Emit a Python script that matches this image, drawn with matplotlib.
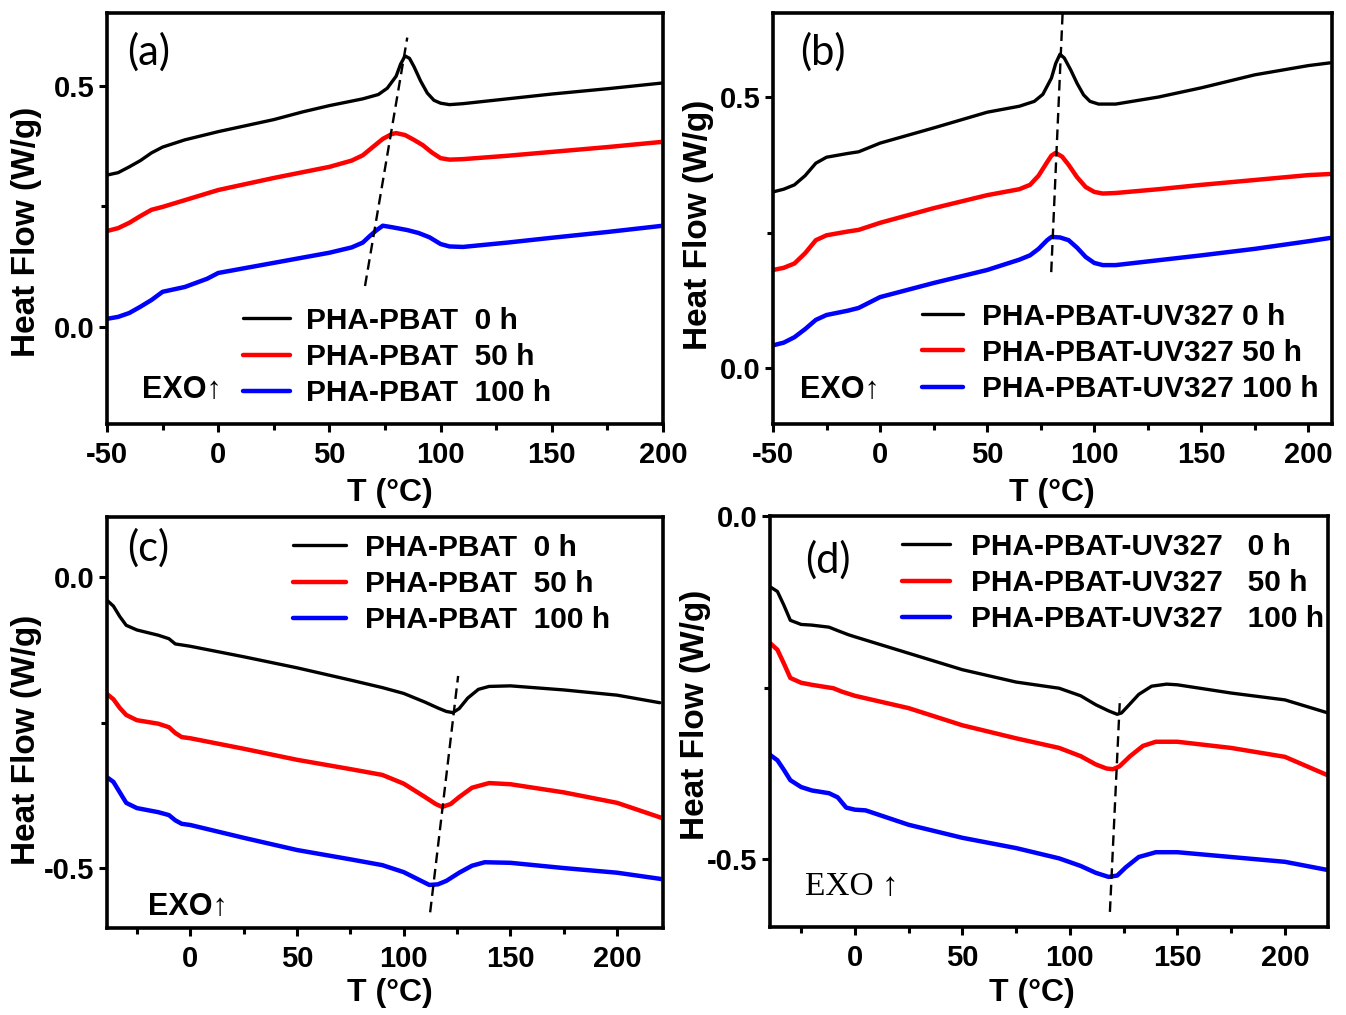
import matplotlib
matplotlib.use('Agg')
import matplotlib.pyplot as plt
from matplotlib.ticker import MultipleLocator

plt.rcParams['font.family'] = ['Liberation Sans', 'DejaVu Sans']
plt.rcParams['axes.unicode_minus'] = False

# ---- panel (a): PHA-PBAT heating
a_T_0 = [-50, -45, -40, -35, -30, -25, -15, 0, 12, 25, 38, 50, 65, 72, 76, 80, 82, 84, 86, 88, 91, 94, 97, 100, 104, 110, 130, 150, 175, 200]
a_HF_0 = [0.315, 0.32, 0.332, 0.345, 0.361, 0.373, 0.388, 0.405, 0.417, 0.43, 0.446, 0.459, 0.473, 0.482, 0.495, 0.52, 0.545, 0.562, 0.557, 0.54, 0.51, 0.485, 0.47, 0.464, 0.461, 0.463, 0.473, 0.483, 0.494, 0.506]
a_T_50 = [-50, -45, -40, -35, -30, -25, -15, 0, 25, 50, 60, 65, 70, 74, 78, 80, 84, 88, 92, 96, 100, 104, 110, 130, 150, 175, 200]
a_HF_50 = [0.199, 0.205, 0.216, 0.23, 0.243, 0.249, 0.263, 0.284, 0.309, 0.332, 0.345, 0.356, 0.375, 0.39, 0.4, 0.402, 0.398, 0.388, 0.377, 0.362, 0.35, 0.347, 0.348, 0.355, 0.363, 0.373, 0.384]
a_T_100 = [-50, -45, -40, -35, -30, -25, -15, -5, 0, 25, 50, 60, 65, 68, 71, 74, 78, 85, 90, 95, 100, 104, 110, 130, 150, 175, 200]
a_HF_100 = [0.017, 0.021, 0.029, 0.042, 0.056, 0.073, 0.083, 0.1, 0.112, 0.133, 0.154, 0.165, 0.175, 0.188, 0.2, 0.21, 0.207, 0.201, 0.195, 0.186, 0.172, 0.167, 0.166, 0.175, 0.185, 0.197, 0.21]
a_guide_T = [66, 85]
a_guide_HF = [0.085, 0.6]

# ---- panel (b): PHA-PBAT-UV327 heating
b_T_0 = [-50, -45, -40, -35, -30, -25, -15, -10, 0, 25, 50, 65, 72, 76, 80, 82, 84, 86, 89, 92, 95, 98, 102, 110, 130, 150, 175, 200, 210]
b_HF_0 = [0.325, 0.33, 0.338, 0.355, 0.378, 0.389, 0.396, 0.399, 0.415, 0.443, 0.472, 0.483, 0.492, 0.505, 0.535, 0.562, 0.579, 0.572, 0.55, 0.525, 0.504, 0.492, 0.487, 0.487, 0.5, 0.517, 0.541, 0.558, 0.563]
b_T_50 = [-50, -45, -40, -35, -30, -25, -15, -10, 0, 25, 50, 65, 70, 74, 78, 80, 82, 85, 88, 92, 96, 100, 104, 110, 130, 150, 175, 200, 210]
b_HF_50 = [0.181, 0.185, 0.193, 0.212, 0.236, 0.245, 0.252, 0.255, 0.268, 0.295, 0.319, 0.33, 0.338, 0.355, 0.38, 0.392, 0.397, 0.39, 0.375, 0.352, 0.334, 0.325, 0.322, 0.323, 0.33, 0.338, 0.347, 0.356, 0.358]
b_T_100 = [-50, -45, -40, -35, -30, -25, -15, -10, 0, 25, 50, 65, 70, 74, 78, 80, 84, 88, 92, 96, 100, 104, 110, 130, 150, 175, 200, 210]
b_HF_100 = [0.042, 0.047, 0.057, 0.072, 0.089, 0.098, 0.106, 0.111, 0.131, 0.157, 0.181, 0.2, 0.208, 0.22, 0.236, 0.242, 0.241, 0.236, 0.222, 0.205, 0.194, 0.19, 0.19, 0.199, 0.208, 0.22, 0.234, 0.24]
b_guide_T = [79.9, 85.5]
b_guide_HF = [0.177, 0.68]

# ---- panel (c): PHA-PBAT cooling
c_T_0 = [-39, -36, -33, -30, -25, -15, -10, -7, 0, 25, 50, 75, 90, 100, 110, 116, 120, 123, 126, 130, 135, 140, 150, 175, 200, 220]
c_HF_0 = [-0.04, -0.05, -0.068, -0.083, -0.091, -0.1, -0.106, -0.115, -0.119, -0.137, -0.156, -0.177, -0.19, -0.2, -0.215, -0.225, -0.231, -0.233, -0.226, -0.208, -0.193, -0.188, -0.187, -0.194, -0.203, -0.216]
c_T_50 = [-39, -36, -33, -30, -25, -15, -10, -7, -4, 0, 25, 50, 75, 90, 100, 110, 115, 118, 122, 126, 132, 140, 150, 175, 200, 221]
c_HF_50 = [-0.201, -0.21, -0.225, -0.237, -0.246, -0.252, -0.258, -0.268, -0.275, -0.277, -0.295, -0.314, -0.33, -0.34, -0.355, -0.378, -0.39, -0.395, -0.39, -0.378, -0.362, -0.354, -0.356, -0.37, -0.388, -0.414]
c_T_100 = [-39, -36, -33, -30, -25, -15, -10, -7, -4, 0, 25, 50, 75, 90, 100, 106, 112, 116, 120, 126, 132, 138, 150, 175, 200, 221]
c_HF_100 = [-0.344, -0.352, -0.37, -0.388, -0.397, -0.404, -0.409, -0.418, -0.424, -0.426, -0.448, -0.469, -0.485, -0.495, -0.507, -0.518, -0.529, -0.528, -0.522, -0.508, -0.496, -0.49, -0.491, -0.5, -0.508, -0.519]
c_guide_T = [112.4, 125.5]
c_guide_HF = [-0.576, -0.17]

# ---- panel (d): PHA-PBAT-UV327 cooling
d_T_0 = [-39.5, -36, -33, -30, -25, -20, -12, -8, -3, 0, 25, 50, 75, 95, 105, 112, 118, 122, 124, 127, 132, 138, 145, 150, 175, 200, 220]
d_HF_0 = [-0.103, -0.11, -0.13, -0.152, -0.158, -0.159, -0.162, -0.167, -0.173, -0.176, -0.2, -0.224, -0.242, -0.251, -0.262, -0.275, -0.284, -0.289, -0.287, -0.277, -0.26, -0.248, -0.245, -0.246, -0.258, -0.268, -0.287]
d_T_50 = [-39.5, -36, -33, -30, -25, -20, -10, -6, -2, 0, 25, 50, 75, 95, 105, 112, 117, 120, 123, 128, 134, 140, 150, 175, 200, 220]
d_HF_50 = [-0.185, -0.195, -0.215, -0.236, -0.243, -0.246, -0.251, -0.256, -0.26, -0.262, -0.28, -0.305, -0.324, -0.338, -0.35, -0.362, -0.368, -0.369, -0.365, -0.35, -0.335, -0.329, -0.329, -0.338, -0.351, -0.378]
d_T_100 = [-39.5, -36, -33, -30, -25, -20, -12, -8, -4, 0, 5, 25, 50, 75, 95, 105, 112, 118, 122, 126, 132, 140, 150, 175, 200, 220]
d_HF_100 = [-0.348, -0.356, -0.37, -0.385, -0.395, -0.4, -0.404, -0.41, -0.425, -0.428, -0.429, -0.45, -0.469, -0.484, -0.499, -0.51, -0.52, -0.526, -0.524, -0.512, -0.497, -0.49, -0.49, -0.497, -0.504, -0.516]
d_guide_T = [118.6, 123.3]
d_guide_HF = [-0.577, -0.264]

labels_ab = ["PHA-PBAT  0 h", "PHA-PBAT  50 h", "PHA-PBAT  100 h"]
labels_uv = ["PHA-PBAT-UV327 0 h", "PHA-PBAT-UV327 50 h", "PHA-PBAT-UV327 100 h"]
labels_c = ["PHA-PBAT  0 h", "PHA-PBAT  50 h", "PHA-PBAT  100 h"]
labels_d = ["PHA-PBAT-UV327   0 h", "PHA-PBAT-UV327   50 h", "PHA-PBAT-UV327   100 h"]

colors = ['black', '#ff0000', '#0000ff']
widths = [2.4, 3.2, 3.2]

fig = plt.figure(figsize=(13.46, 10.15), dpi=100)

panels = [
    dict(tag='(a)', rect=[0.0795, 0.5823, 0.4131, 0.4049], xlim=(-50, 200), ylim=(-0.201, 0.651),
         xt=[-50, 0, 50, 100, 150, 200], yt=[0.0, 0.5],
         data=[(a_T_0, a_HF_0), (a_T_50, a_HF_50), (a_T_100, a_HF_100)], guide=(a_guide_T, a_guide_HF),
         labels=labels_ab, leg=(0.245, 0.163), hl=1.55, hp=0.55,
         exo=(0.063, 0.083, 'EXO\u2191', 'sans'), tagpos=(0.074, 0.905), ylab=(-0.117, 0.467), xlab=(0.509, -0.131)),
    dict(tag='(b)', rect=[0.5743, 0.5823, 0.4153, 0.4049], xlim=(-50, 211), ylim=(-0.103, 0.655),
         xt=[-50, 0, 50, 100, 150, 200], yt=[0.0, 0.5],
         data=[(b_T_0, b_HF_0), (b_T_50, b_HF_50), (b_T_100, b_HF_100)], guide=(b_guide_T, b_guide_HF),
         labels=labels_uv, leg=(0.267, 0.173), hl=1.35, hp=0.65,
         exo=(0.048, 0.083, 'EXO\u2191', 'sans'), tagpos=(0.089, 0.905), ylab=(-0.106, 0.484), xlab=(0.499, -0.131)),
    dict(tag='(c)', rect=[0.0795, 0.0857, 0.4131, 0.4049], xlim=(-39, 221.5), ylim=(-0.603, 0.103),
         xt=[0, 50, 100, 150, 200], yt=[-0.5, 0.0],
         data=[(c_T_0, c_HF_0), (c_T_50, c_HF_50), (c_T_100, c_HF_100)], guide=(c_guide_T, c_guide_HF),
         labels=labels_c, leg=(0.335, 0.837), hl=1.75, hp=0.65,
         exo=(0.074, 0.051, 'EXO\u2191', 'sans'), tagpos=(0.074, 0.925), ylab=(-0.117, 0.457), xlab=(0.509, -0.122)),
    dict(tag='(d)', rect=[0.5720, 0.0867, 0.4146, 0.4049], xlim=(-39.5, 220), ylim=(-0.599, 0.0),
         xt=[0, 50, 100, 150, 200], yt=[-0.5, 0.0],
         data=[(d_T_0, d_HF_0), (d_T_50, d_HF_50), (d_T_100, d_HF_100)], guide=(d_guide_T, d_guide_HF),
         labels=labels_d, leg=(0.237, 0.837), hl=1.6, hp=0.7,
         exo=(0.063, 0.097, 'EXO \u2191', 'serif'), tagpos=(0.104, 0.893), ylab=(-0.106, 0.516), xlab=(0.47, -0.124)),
]

for p in panels:
    ax = fig.add_axes(p['rect'])
    handles = []
    for (T, HF), c, lw, lab in zip(p['data'], colors, widths, p['labels']):
        ln, = ax.plot(T, HF, color=c, lw=lw, solid_joinstyle='round', solid_capstyle='round', label=lab)
        handles.append(ln)
    ax.plot(p['guide'][0], p['guide'][1], color='black', lw=1.7, linestyle=(0, (4.5, 2.5)))
    ax.set_xlim(p['xlim'])
    ax.set_ylim(p['ylim'])
    ax.set_xticks(p['xt'])
    ax.set_yticks(p['yt'])
    ax.set_yticklabels(['%.1f' % v for v in p['yt']])
    ax.xaxis.set_minor_locator(MultipleLocator(25))
    ax.yaxis.set_minor_locator(MultipleLocator(0.25))
    ax.tick_params(which='both', direction='out', width=2.2, labelsize=21)
    ax.tick_params(which='major', length=6)
    ax.tick_params(which='minor', length=4)
    ax.tick_params(axis='x', pad=6)
    ax.tick_params(axis='y', pad=3)
    for lab in ax.get_xticklabels() + ax.get_yticklabels():
        lab.set_fontweight('bold')
    for s in ax.spines.values():
        s.set_linewidth(2.6)
    ax.set_ylabel('Heat Flow (W/g)', fontsize=24, fontweight='bold')
    ax.yaxis.set_label_coords(*p['ylab'])
    ax.set_xlabel('T (\u00b0C)', fontsize=23, fontweight='bold')
    ax.xaxis.set_label_coords(*p['xlab'])
    ax.text(p['tagpos'][0], p['tagpos'][1], p['tag'], transform=ax.transAxes, fontsize=30,
            family=['Lato', 'DejaVu Sans'], ha='center', va='center')
    ex, ey, et, ef = p['exo']
    if ef == 'serif':
        ax.text(ex, ey, et, transform=ax.transAxes, fontsize=24, family=['Liberation Serif', 'DejaVu Serif'],
                ha='left', va='center')
    else:
        ax.text(ex, ey, et, transform=ax.transAxes, fontsize=22, fontweight='bold', ha='left', va='center')
    ax.legend(handles=handles, loc='center left', bbox_to_anchor=p['leg'], frameon=False,
              borderpad=0, borderaxespad=0, handlelength=p['hl'], handletextpad=p['hp'],
              labelspacing=0.28, prop={'weight': 'bold', 'size': 21.5})

fig.savefig('out.png', dpi=100)
